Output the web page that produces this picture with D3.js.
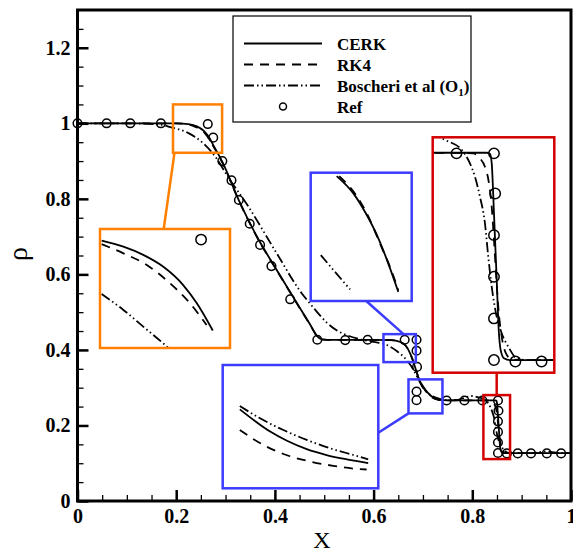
<!DOCTYPE html>
<html>
<head>
<meta charset="utf-8">
<title>Sod density</title>
<script src="https://cdn.jsdelivr.net/npm/d3@7"></script>
<style>
  body { margin: 0; background: #fff; }
  svg text { font-family: "Liberation Serif", "Times New Roman", serif; }
</style>
</head>
<body>
<div id="chart"></div>
<script>
// ---- data ----
const xTicks = [0, 0.2, 0.4, 0.6, 0.8, 1];
const yTicks = [0, 0.2, 0.4, 0.6, 0.8, 1, 1.2];
const seriesNames = ["CERK", "RK4", "Boscheri et al (O", "Ref"];

const refX = [0, 0.059, 0.107, 0.169, 0.264, 0.275, 0.2935, 0.312, 0.327, 0.349, 0.370, 0.393, 0.431, 0.486,
  0.5425, 0.588, 0.663, 0.687, 0.687, 0.688, 0.687, 0.687, 0.748, 0.784, 0.8205, 0.852, 0.853, 0.852, 0.852,
  0.852, 0.852, 0.870, 0.892, 0.919, 0.951, 0.980];
const refY = [1, 1, 1, 1, 0.998, 0.962, 0.900, 0.849, 0.797, 0.734, 0.678, 0.622, 0.534, 0.427,
  0.426, 0.427, 0.427, 0.427, 0.398, 0.355, 0.290, 0.267, 0.266, 0.266, 0.266, 0.266, 0.239, 0.211, 0.183,
  0.155, 0.127, 0.126, 0.126, 0.126, 0.126, 0.126];

const cerk = [[0,1],[0.1,1],[0.2,1],[0.225,0.998],[0.242,0.992],[0.256,0.98],[0.268,0.96],[0.276,0.94],
  [0.2935,0.898],[0.327,0.796],[0.364,0.699],[0.404,0.611],[0.445,0.523],[0.472,0.466],[0.485,0.437],
  [0.495,0.428],[0.52,0.4265],[0.6,0.4265],[0.635,0.4262],[0.647,0.424],[0.657,0.419],[0.664,0.413],
  [0.674,0.391],[0.684,0.355],[0.691,0.325],[0.701,0.302],[0.7146,0.28],[0.731,0.2685],[0.75,0.2665],
  [0.8,0.2664],[0.8459,0.2664],[0.8487,0.2656],[0.8501,0.2593],[0.852,0.2257],[0.8543,0.1808],
  [0.856,0.1472],[0.8576,0.1338],[0.8604,0.1282],[0.8655,0.127],[0.9,0.127],[1,0.1265]];

const rk4 = [[0,1],[0.1,1],[0.2,1],[0.222,0.998],[0.24,0.99],[0.256,0.977],[0.268,0.955],[0.278,0.933],
  [0.2935,0.896],[0.327,0.795],[0.364,0.698],[0.404,0.61],[0.445,0.522],[0.472,0.465],[0.486,0.436],
  [0.497,0.4275],[0.52,0.4265],[0.6,0.4265],[0.635,0.426],[0.648,0.4235],[0.658,0.418],[0.665,0.411],
  [0.675,0.388],[0.685,0.352],[0.692,0.322],[0.702,0.298],[0.7146,0.278],[0.731,0.268],[0.75,0.2665],
  [0.8,0.2664],[0.8346,0.266],[0.8402,0.2627],[0.8444,0.257],[0.8478,0.2459],[0.8501,0.2301],
  [0.852,0.2077],[0.8537,0.1853],[0.8556,0.1629],[0.8585,0.1427],[0.8621,0.1315],[0.8669,0.1275],
  [0.8739,0.127],[0.9,0.127],[1,0.1265]];

const boscheri = [[0,1],[0.1,1],[0.17,0.996],[0.188,0.99],[0.222,0.976],[0.2557,0.946],[0.2828,0.905],
  [0.303,0.862],[0.3435,0.785],[0.404,0.655],[0.451,0.556],[0.478,0.512],[0.5055,0.472],[0.525,0.452],
  [0.546,0.439],[0.573,0.428],[0.6,0.421],[0.627,0.413],[0.647,0.397],[0.667,0.373],[0.681,0.347],
  [0.691,0.322],[0.698,0.304],[0.708,0.289],[0.72,0.277],[0.735,0.27],[0.75,0.267],[0.77,0.268],
  [0.79,0.2755],[0.8,0.278],[0.8123,0.2745],[0.8249,0.2683],[0.8318,0.2593],[0.836,0.2503],[0.8402,0.2369],
  [0.8444,0.219],[0.8472,0.1965],[0.8501,0.1763],[0.8537,0.1584],[0.8585,0.145],[0.864,0.136],
  [0.8711,0.1282],[0.8795,0.127],[0.92,0.127],[0.95,0.131],[0.97,0.128],[1,0.1265]];

// zoomed views (their own curves, read inside each box)
const orangeCerk = [[0.2405,0.9996],[0.2472,0.9973],[0.2533,0.9942],[0.2595,0.9897],[0.2656,0.9828],[0.2698,0.9759],[0.2747,0.9656]];
const orangeRk4 = [[0.2405,0.9983],[0.2472,0.9948],[0.2544,0.9904],[0.2615,0.9835],[0.2677,0.9759],[0.2728,0.9677]];
const orangeBos = [[0.2405,0.9794],[0.2472,0.9734],[0.2533,0.9671],[0.2597,0.9605],[0.262,0.958]];
const orangeRefX = [0.2711], orangeRefY = [1.0];

const blue1Cerk = [[0.6503,0.4279],[0.6569,0.4171],[0.6622,0.4036],[0.6668,0.3891],[0.6707,0.3735],[0.6747,0.3557]];
const blue1Rk4 = [[0.6513,0.4279],[0.6582,0.4155],[0.6635,0.4005],[0.6674,0.3859],[0.6714,0.3713],[0.6747,0.3568]];
const blue1Bos = [[0.644,0.3786],[0.649,0.3693],[0.6556,0.3572]];

const blue2Cerk = [[0.7044,0.2856],[0.7079,0.2822],[0.7122,0.2784],[0.7164,0.2755],[0.7216,0.2727],[0.7267,0.2708],[0.7319,0.2694],[0.7374,0.2682]];
const blue2Rk4 = [[0.7044,0.2789],[0.7104,0.2741],[0.7164,0.2708],[0.7224,0.2687],[0.7284,0.2673],[0.7344,0.2663],[0.737,0.2661]];
const blue2Bos = [[0.7044,0.2867],[0.7096,0.2827],[0.7156,0.2789],[0.7216,0.2757],[0.7276,0.273],[0.7336,0.2708],[0.7374,0.2694]];

// ---- layout ----
const W = 573, H = 551;
const x = d3.scaleLinear().domain([0, 1]).range([77.5, 571]);
const y = d3.scaleLinear().domain([0, 1.3]).range([501, 10]);
const font = '"Liberation Serif", "Times New Roman", serif';

const svg = d3.select("#chart").append("svg").attr("width", W).attr("height", H);

const styles = {
  cerk: { dash: null },
  rk4: { dash: "9,7" },
  bos: { dash: "10,3,1.5,3,1.5,3" }
};

function drawSet(g, sx, sy, sets, rx, ry, r) {
  const line = d3.line().x(d => sx(d[0])).y(d => sy(d[1])).curve(d3.curveMonotoneX);
  sets.forEach(s => {
    if (!s.data) return;
    g.append("path").attr("d", line(s.data)).attr("fill", "none")
      .attr("stroke", "#000").attr("stroke-width", 1.8)
      .attr("stroke-dasharray", styles[s.key].dash);
  });
  if (rx) {
    g.selectAll(null).data(rx).enter().append("circle")
      .attr("cx", d => sx(d)).attr("cy", (d, i) => sy(ry[i])).attr("r", r)
      .attr("fill", "none").attr("stroke", "#000").attr("stroke-width", 1.5);
  }
}

// main curves
const main = svg.append("g");
drawSet(main, x, y, [{ key: "cerk", data: cerk }, { key: "rk4", data: rk4 }, { key: "bos", data: boscheri }], refX, refY, 4.3);

// axes (inward ticks)
const minor = d3.range(0, 21).map(i => i * 0.05);
const minorY = d3.range(0, 26).map(i => i * 0.05);
svg.append("g").attr("transform", "translate(0,501)")
  .call(d3.axisBottom(x).tickValues(minor).tickSize(-6).tickFormat(""))
  .call(g => g.select(".domain").remove())
  .call(g => g.selectAll("line").attr("stroke-width", 1.3));
svg.append("g").attr("transform", "translate(77.5,0)")
  .call(d3.axisLeft(y).tickValues(minorY).tickSize(-6).tickFormat(""))
  .call(g => g.select(".domain").remove())
  .call(g => g.selectAll("line").attr("stroke-width", 1.3));
svg.append("g").attr("transform", "translate(0,501)")
  .call(d3.axisBottom(x).tickValues(xTicks).tickSize(-11).tickPadding(8).tickFormat(d3.format("~g")))
  .call(g => g.select(".domain").remove())
  .call(g => g.selectAll("line").attr("stroke-width", 2.5))
  .call(g => g.selectAll("text").attr("font-family", font).attr("font-size", 20).attr("font-weight", "bold").attr("fill", "#000"));
svg.append("g").attr("transform", "translate(77.5,0)")
  .call(d3.axisLeft(y).tickValues(yTicks).tickSize(-11).tickPadding(7).tickFormat(d3.format("~g")))
  .call(g => g.select(".domain").remove())
  .call(g => g.selectAll("line").attr("stroke-width", 2.5))
  .call(g => g.selectAll("text").attr("font-family", font).attr("font-size", 20).attr("font-weight", "bold").attr("fill", "#000"));

svg.append("rect").attr("x", x(0)).attr("y", y(1.3)).attr("width", x(1) - x(0)).attr("height", y(0) - y(1.3))
  .attr("fill", "none").attr("stroke", "#000").attr("stroke-width", 3);

svg.append("text").attr("x", 322).attr("y", 548).attr("text-anchor", "middle")
  .attr("font-size", 24).text("X");
svg.append("text").attr("transform", "translate(27,254) rotate(-90)").attr("text-anchor", "middle")
  .attr("font-size", 28).text("ρ");

// ---- zoom boxes and insets ----
const insets = [
  { id: "or", color: "#ff8000", box: [0.1935, 0.293, 0.922, 1.05], px: [100, 229, 230, 348],
    xd: [0.24, 0.28], yd: [0.959, 1.004], from: [0.03, 1], to: [0.49, 0],
    sets: [{ key: "cerk", data: orangeCerk }, { key: "rk4", data: orangeRk4 }, { key: "bos", data: orangeBos }],
    rx: orangeRefX, ry: orangeRefY },
  { id: "b1", color: "#3c3cff", box: [0.620, 0.6856, 0.3677, 0.4418], px: [310.7, 172.7, 411.7, 301],
    xd: [0.64, 0.68], yd: [0.35, 0.43], from: [0.62, 0], to: [0.55, 1],
    sets: [{ key: "cerk", data: blue1Cerk }, { key: "rk4", data: blue1Rk4 }, { key: "bos", data: blue1Bos }] },
  { id: "b2", color: "#3c3cff", box: [0.6707, 0.7395, 0.232, 0.322], px: [222.7, 365, 378.3, 488.3],
    xd: [0.70, 0.74], yd: [0.26, 0.30], from: [0, 1], to: [1, 0.55],
    sets: [{ key: "cerk", data: blue2Cerk }, { key: "rk4", data: blue2Rk4 }, { key: "bos", data: blue2Bos }] },
  { id: "rd", color: "#d40000", box: [0.8225, 0.8765, 0.111, 0.2804], px: [432.7, 137.3, 554.3, 372.7],
    xd: [0.8005, 0.9027], yd: [0.1185, 0.2768], from: [0.5, 0], to: [0.526, 1],
    sets: [{ key: "cerk", data: cerk }, { key: "rk4", data: rk4 }, { key: "bos", data: boscheri }],
    rx: refX, ry: refY }
];

const defs = svg.append("defs");
insets.forEach(ins => {
  const bx0 = x(ins.box[0]), bx1 = x(ins.box[1]), by0 = y(ins.box[3]), by1 = y(ins.box[2]);
  const [px0, py0, px1, py1] = ins.px;
  svg.append("rect").attr("x", bx0).attr("y", by0).attr("width", bx1 - bx0).attr("height", by1 - by0)
    .attr("fill", "none").attr("stroke", ins.color).attr("stroke-width", 2.5);
  svg.append("line")
    .attr("x1", bx0 + ins.from[0] * (bx1 - bx0)).attr("y1", by0 + ins.from[1] * (by1 - by0))
    .attr("x2", px0 + ins.to[0] * (px1 - px0)).attr("y2", py0 + ins.to[1] * (py1 - py0))
    .attr("stroke", ins.color).attr("stroke-width", 2.5);
  defs.append("clipPath").attr("id", "clip-" + ins.id).append("rect")
    .attr("x", px0).attr("y", py0).attr("width", px1 - px0).attr("height", py1 - py0);
  svg.append("rect").attr("x", px0).attr("y", py0).attr("width", px1 - px0).attr("height", py1 - py0)
    .attr("fill", "#fff");
  const sx = d3.scaleLinear().domain(ins.xd).range([px0, px1]);
  const sy = d3.scaleLinear().domain(ins.yd).range([py1, py0]);
  const g = svg.append("g").attr("clip-path", `url(#clip-${ins.id})`);
  drawSet(g, sx, sy, ins.sets, ins.rx, ins.ry, 5.2);
  svg.append("rect").attr("x", px0).attr("y", py0).attr("width", px1 - px0).attr("height", py1 - py0)
    .attr("fill", "none").attr("stroke", ins.color).attr("stroke-width", 2.5);
});

// ---- legend ----
const leg = svg.append("g");
leg.append("rect").attr("x", 233).attr("y", 16).attr("width", 238).attr("height", 106)
  .attr("fill", "#fff").attr("stroke", "#000").attr("stroke-width", 1.2);
const rows = [43.5, 64.5, 85.5, 106.5];
["cerk", "rk4", "bos"].forEach((k, i) => {
  leg.append("line").attr("x1", 244).attr("x2", 322).attr("y1", rows[i]).attr("y2", rows[i])
    .attr("stroke", "#000").attr("stroke-width", 1.8).attr("stroke-dasharray", styles[k].dash);
});
leg.append("circle").attr("cx", 283).attr("cy", rows[3]).attr("r", 3.5)
  .attr("fill", "none").attr("stroke", "#000").attr("stroke-width", 1.5);
seriesNames.forEach((t, i) => {
  const tx = leg.append("text").attr("x", 337).attr("y", rows[i] + 6)
    .attr("font-size", 17).attr("font-weight", "bold").text(t);
  if (i === 2) {
    tx.append("tspan").attr("font-size", 11).attr("dy", 4).text("1");
    tx.append("tspan").attr("dy", -4).text(")");
  }
});
</script>
</body>
</html>
